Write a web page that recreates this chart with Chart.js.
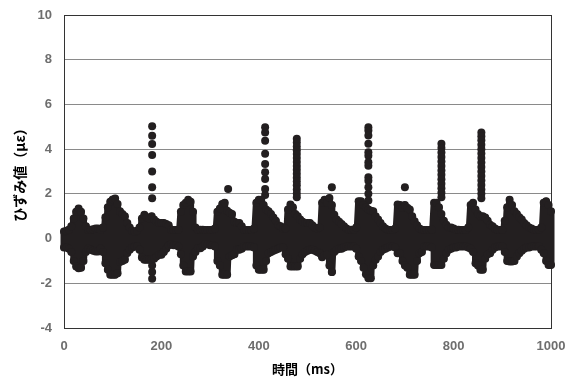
<!DOCTYPE html>
<html>
<head>
<meta charset="utf-8">
<script src="https://cdn.jsdelivr.net/npm/chart.js@4.4.1/dist/chart.umd.min.js"></script>
<style>
  body { margin: 0; background: #fff; }
  #wrap { width: 575px; height: 378px; }
</style>
</head>
<body>
<div id="wrap"><canvas id="strainChart" width="575" height="378"></canvas></div>
<script>
// sample times (ms), envelope every 5 ms
const times = [
  0, 5, 10, 15, 20, 25, 30, 35, 40, 45, 50, 55, 60, 65, 70, 75, 80, 85, 90, 95,
  100, 105, 110, 115, 120, 125, 130, 135, 140, 145, 150, 155, 160, 165, 170, 175, 180, 185, 190, 195,
  200, 205, 210, 215, 220, 225, 230, 235, 240, 245, 250, 255, 260, 265, 270, 275, 280, 285, 290, 295,
  300, 305, 310, 315, 320, 325, 330, 335, 340, 345, 350, 355, 360, 365, 370, 375, 380, 385, 390, 395,
  400, 405, 410, 415, 420, 425, 430, 435, 440, 445, 450, 455, 460, 465, 470, 475, 480, 485, 490, 495,
  500, 505, 510, 515, 520, 525, 530, 535, 540, 545, 550, 555, 560, 565, 570, 575, 580, 585, 590, 595,
  600, 605, 610, 615, 620, 625, 630, 635, 640, 645, 650, 655, 660, 665, 670, 675, 680, 685, 690, 695,
  700, 705, 710, 715, 720, 725, 730, 735, 740, 745, 750, 755, 760, 765, 770, 775, 780, 785, 790, 795,
  800, 805, 810, 815, 820, 825, 830, 835, 840, 845, 850, 855, 860, 865, 870, 875, 880, 885, 890, 895,
  900, 905, 910, 915, 920, 925, 930, 935, 940, 945, 950, 955, 960, 965, 970, 975, 980, 985, 990, 995,
  1000
];

// upper edge of the trace
const upper = [
  0.32, 0.35, 0.40, 0.55, 0.90, 1.20, 1.34, 1.20, 0.90, 0.55, 0.40, 0.40, 0.42, 0.45, 0.45, 0.40, 0.50, 0.95, 1.40, 1.65,
  1.75, 1.79, 1.55, 1.22, 1.10, 1.00, 0.70, 0.50, 0.35, 0.30, 0.35, 0.50, 0.90, 1.07, 0.95, 0.90, 1.00, 0.85, 0.75, 0.70,
  0.70, 0.70, 0.65, 0.60, 0.40, 0.38, 0.38, 0.40, 1.20, 1.50, 1.60, 1.74, 1.65, 1.20, 0.50, 0.40, 0.40, 0.40, 0.38, 0.38,
  0.38, 0.40, 0.45, 1.20, 1.35, 1.55, 1.60, 1.25, 1.15, 1.10, 0.75, 0.70, 0.70, 0.55, 0.40, 0.38, 0.38, 0.38, 0.45, 1.60,
  1.74, 1.74, 1.50, 1.30, 1.22, 1.10, 0.94, 0.80, 0.60, 0.55, 0.45, 0.45, 1.30, 1.52, 1.40, 1.10, 1.00, 0.85, 0.75, 0.70,
  0.70, 0.70, 0.60, 0.50, 0.45, 0.50, 1.60, 1.74, 1.60, 1.82, 1.50, 1.07, 0.85, 0.75, 0.65, 0.55, 0.45, 0.40, 0.40, 0.40,
  0.50, 1.67, 1.67, 1.50, 1.40, 1.30, 1.25, 1.22, 1.00, 0.85, 0.70, 0.55, 0.45, 0.40, 0.38, 0.38, 0.45, 1.52, 1.50, 1.38,
  1.50, 1.38, 1.30, 1.00, 0.77, 0.60, 0.45, 0.40, 0.38, 0.38, 0.38, 0.40, 1.60, 1.60, 1.40, 1.10, 0.80, 0.62, 0.50, 0.50,
  0.45, 0.40, 0.40, 0.38, 0.38, 0.38, 0.50, 1.50, 1.60, 1.30, 1.10, 1.00, 1.00, 0.94, 0.80, 0.62, 0.55, 0.45, 0.40, 0.38,
  0.38, 0.80, 1.40, 1.74, 1.50, 1.22, 1.10, 0.95, 0.85, 0.70, 0.60, 0.50, 0.45, 0.40, 0.38, 0.40, 0.50, 1.60, 1.67, 1.50,
  1.22
];

// lower edge of the trace
const lower = [
  -0.40, -0.40, -0.45, -0.60, -1.00, -1.25, -1.33, -1.30, -1.00, -0.60, -0.45, -0.50, -0.55, -0.58, -0.58, -0.45, -0.60, -1.10, -1.40, -1.62,
  -1.62, -1.62, -1.55, -1.05, -1.00, -0.95, -0.65, -0.50, -0.40, -0.35, -0.35, -0.50, -0.85, -0.95, -0.95, -0.95, -0.95, -0.90, -0.80, -0.72,
  -0.72, -0.60, -0.45, -0.30, -0.25, -0.30, -0.30, -0.35, -0.70, -1.20, -1.47, -1.47, -1.47, -0.80, -0.60, -0.43, -0.43, -0.35, -0.25, -0.25,
  -0.30, -0.30, -0.35, -1.00, -1.20, -1.62, -1.62, -1.62, -0.80, -0.75, -0.70, -0.50, -0.50, -0.45, -0.35, -0.35, -0.35, -0.35, -0.40, -1.20,
  -1.40, -1.40, -1.40, -1.00, -0.66, -0.60, -0.55, -0.50, -0.45, -0.40, -0.40, -0.70, -0.90, -1.25, -1.25, -1.25, -1.25, -0.90, -0.70, -0.60,
  -0.55, -0.50, -0.50, -0.55, -0.60, -0.66, -0.84, -0.75, -0.72, -1.20, -1.50, -0.60, -0.50, -0.45, -0.45, -0.40, -0.35, -0.35, -0.35, -0.35,
  -0.45, -0.80, -1.00, -1.30, -1.60, -1.77, -1.77, -1.20, -0.95, -0.80, -0.60, -0.50, -0.45, -0.40, -0.35, -0.35, -0.40, -0.66, -0.66, -1.00,
  -1.20, -1.30, -1.62, -1.62, -1.62, -1.00, -0.66, -0.60, -0.35, -0.35, -0.35, -0.40, -1.18, -1.18, -1.18, -1.18, -0.90, -0.66, -0.50, -0.45,
  -0.40, -0.40, -0.35, -0.35, -0.35, -0.35, -0.40, -0.45, -0.60, -1.10, -1.20, -1.40, -1.40, -0.90, -0.70, -0.66, -0.50, -0.40, -0.35, -0.35,
  -0.35, -0.60, -1.00, -1.02, -1.02, -1.00, -0.80, -0.66, -0.55, -0.45, -0.40, -0.40, -0.35, -0.35, -0.35, -0.35, -0.50, -0.66, -1.00, -1.18,
  -1.18
];

// isolated columns of readings (peaks)
const spikeTimes = [181, 337, 413, 478, 550, 625, 700, 775, 857];
const spikeValues = [
  [5.02, 4.60, 4.23, 3.74, 3.00, 2.30, 1.80, -1.20, -1.50, -1.80],
  [2.22],
  [4.98, 4.75, 4.38, 3.79, 3.34, 2.97, 2.67, 2.22, 1.95],
  [4.46, 4.30, 4.12, 3.95, 3.78, 3.60, 3.42, 3.25, 3.08, 2.90, 2.72, 2.55, 2.38, 2.20, 2.02, 1.85],
  [2.29, -1.50],
  [4.98, 4.83, 4.61, 4.24, 3.86, 3.71, 3.41, 3.26, 2.74, 2.59, 2.29, 2.00, 1.70],
  [2.29],
  [4.24, 4.05, 3.85, 3.65, 3.45, 3.25, 3.05, 2.85, 2.65, 2.45, 2.25, 2.05, 1.85],
  [4.75, 4.58, 4.40, 4.20, 4.00, 3.80, 3.60, 3.40, 3.20, 3.00, 2.80, 2.60, 2.40, 2.20, 2.00, 1.80]
];

const xTicks = [0, 200, 400, 600, 800, 1000];
const yTicks = [-4, -2, 0, 2, 4, 6, 8, 10];

const dotColor = '#231f20';
const tickFont = { family: 'Liberation Sans', size: 13, weight: 'bold' };

// trace goes up and down through each reading so the band is filled in
const traceData = times.flatMap((t, i) => [{ x: t, y: upper[i] }, { x: t, y: lower[i] }]);
const spikeData = spikeTimes.flatMap((t, i) => spikeValues[i].map(v => ({ x: t, y: v })));

const frame = {
  id: 'frame',
  beforeDatasetsDraw(chart) {
    const { ctx, chartArea: a } = chart;
    ctx.save();
    ctx.strokeStyle = '#333';
    ctx.lineWidth = 1;
    ctx.strokeRect(Math.round(a.left) + 0.5, Math.round(a.top) + 0.5,
      Math.round(a.right - a.left), Math.round(a.bottom - a.top));
    ctx.restore();
  }
};

new Chart(document.getElementById('strainChart'), {
  type: 'scatter',
  data: {
    datasets: [{
      data: traceData,
      showLine: true,
      borderColor: dotColor,
      borderWidth: 7,
      borderJoinStyle: 'round',
      backgroundColor: dotColor,
      pointRadius: 4,
      pointBorderWidth: 0,
      clip: false
    }, {
      data: spikeData,
      showLine: false,
      backgroundColor: dotColor,
      borderColor: dotColor,
      pointRadius: 4,
      pointBorderWidth: 0,
      clip: false
    }]
  },
  options: {
    responsive: false,
    animation: false,
    layout: { padding: { top: 15, right: 24, left: 0, bottom: 0 } },
    scales: {
      x: {
        type: 'linear',
        min: 0,
        max: 1000,
        afterBuildTicks: s => { s.ticks = xTicks.map(v => ({ value: v })); },
        afterFit: s => { s.height = 50; s.paddingLeft = 0; s.paddingRight = 0; },
        grid: { display: false, drawTicks: false },
        border: { display: false },
        ticks: { color: '#6e6e6e', padding: 11, font: tickFont, callback: v => String(v) },
        title: {
          display: true,
          text: '時間（ms）',
          color: '#000',
          padding: { top: 0, bottom: 1 },
          font: { family: 'Noto Sans CJK JP', size: 13, weight: 'bold' }
        }
      },
      y: {
        min: -4,
        max: 10,
        afterBuildTicks: s => { s.ticks = yTicks.map(v => ({ value: v })); },
        afterFit: s => { s.width = 64; s.paddingTop = 0; s.paddingBottom = 0; },
        grid: { color: '#8a8a8a', drawTicks: false },
        border: { display: false },
        ticks: { color: '#6e6e6e', padding: 12, font: tickFont, callback: v => String(v) },
        title: {
          display: true,
          text: 'ひずみ値（με）',
          color: '#000',
          padding: { top: 11, bottom: 0 },
          font: { family: 'Noto Sans CJK JP', size: 14, weight: 'bold' }
        }
      }
    },
    plugins: {
      legend: { display: false },
      tooltip: { enabled: false }
    }
  },
  plugins: [frame]
});
</script>
</body>
</html>
